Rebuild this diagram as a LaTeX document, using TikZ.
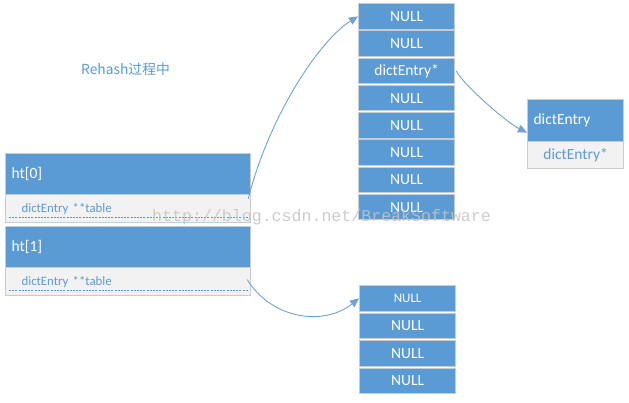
\documentclass[tikz,border=0pt]{standalone}
\usepackage{fontspec}
\newfontfamily\calfont{Carlito}
\newfontfamily\cjkfont{Noto Sans CJK SC}
\newfontfamily\wmfont{Liberation Mono}
\usetikzlibrary{arrows.meta}
\definecolor{cblue}{HTML}{5B9BD5}
\definecolor{cborder}{HTML}{C8CCD0}
\definecolor{tgray}{HTML}{F2F2F2}
\definecolor{tblue}{HTML}{5B9BD5}
\definecolor{arrowc}{HTML}{6FA3D8}
\definecolor{wmgray}{HTML}{C4C4C4}
\tikzset{
  cell/.style={draw=cborder, line width=1.2pt, fill=cblue, text=white,
    minimum width=96pt, minimum height=25.5pt, inner sep=0pt, anchor=north west,
    font=\calfont\fontsize{15.5}{17}\selectfont},
  headbox/.style={draw=cborder, line width=1.2pt, fill=cblue, text=white,
    minimum height=41pt, inner xsep=6pt, inner ysep=0pt, text width=233pt, align=left,
    anchor=north west, font=\calfont\fontsize{15.5}{17}\selectfont},
  tblbox/.style={draw=cborder, line width=1.2pt, fill=tgray, text=tblue,
    minimum height=28pt, inner xsep=16pt, inner ysep=0pt, text width=213pt, align=left,
    anchor=north west, font=\calfont\fontsize{12.8}{14}\selectfont},
  dashline/.style={draw=tblue, line width=0.8pt, dash pattern=on 2pt off 1.2pt},
  conn/.style={draw=arrowc, line width=0.9pt, -{Triangle[length=9pt,width=8pt]}},
}
\begin{document}
\begin{tikzpicture}[x=1pt,y=-1pt]
\useasboundingbox[fill=white] (0,0) rectangle (629,402);

% title
\node[text=tblue, font=\cjkfont\fontsize{13.8}{15}\selectfont, anchor=west, inner xsep=0pt] (title) at (81,69) {Rehash过程中};

% left boxes
\node[headbox] (ht0) at (5,153) {ht[0]};
\node[tblbox] (ht0tbl) at (5,194) {dictEntry **table};
\draw[dashline] ([shift={(4,-6)}]ht0tbl.south west) -- ([shift={(-3,-6)}]ht0tbl.south east);

\node[headbox] (ht1) at (5,226) {ht[1]};
\node[tblbox] (ht1tbl) at (5,267) {dictEntry **table};
\draw[dashline] ([shift={(4,-6)}]ht1tbl.south west) -- ([shift={(-3,-6)}]ht1tbl.south east);

% top table (ht[0])
\node[cell] (a1) at (358,3.00) {NULL};
\node[cell] (a2) at (358,30.25) {NULL};
\node[cell] (a3) at (358,57.50) {dictEntry*};
\node[cell] (a4) at (358,84.75) {NULL};
\node[cell] (a5) at (358,112.00) {NULL};
\node[cell] (a6) at (358,139.25) {NULL};
\node[cell] (a7) at (358,166.50) {NULL};
\node[cell] (a8) at (358,193.75) {NULL};

% bottom table (ht[1])
\node[cell, font=\calfont\fontsize{13}{14}\selectfont] (b1) at (359,285) {NULL};
\node[cell] (b2) at (359,312.5) {NULL};
\node[cell] (b3) at (359,340) {NULL};
\node[cell] (b4) at (359,367.5) {NULL};

% dictEntry box
\node[draw=cborder, line width=1.2pt, fill=cblue, text=white, minimum height=42pt,
  inner xsep=6pt, inner ysep=0pt, text width=84pt, align=left, anchor=north west,
  font=\calfont\fontsize{15.5}{17}\selectfont] (de) at (527,99) {dictEntry};
\node[draw=cborder, line width=1.2pt, fill=tgray, text=tblue, minimum height=27pt,
  minimum width=96pt, inner sep=0pt, anchor=north west,
  font=\calfont\fontsize{15.5}{17}\selectfont] (denext) at (527,141) {dictEntry*};

% connectors
\draw[conn] ([shift={(-3,5)}]ht0tbl.north east) .. controls +(20,-80) and +(-40,25) .. (a1.west);
\draw[conn] ([shift={(1,0)}]a3.east) .. controls +(8,15) and +(-20,-10) .. ([shift={(0,12)}]de.west);
\draw[conn] ([shift={(-4,-2)}]ht1tbl.east) .. controls +(25,40) and +(-35,28) .. (b1.west);

% watermark
\node[text=wmgray, opacity=0.85, font=\wmfont\fontsize{16.6}{18}\selectfont, anchor=base west, inner sep=0pt] (wm) at (152,221) {http://blog.csdn.net/BreakSoftware};
\end{tikzpicture}
\end{document}
